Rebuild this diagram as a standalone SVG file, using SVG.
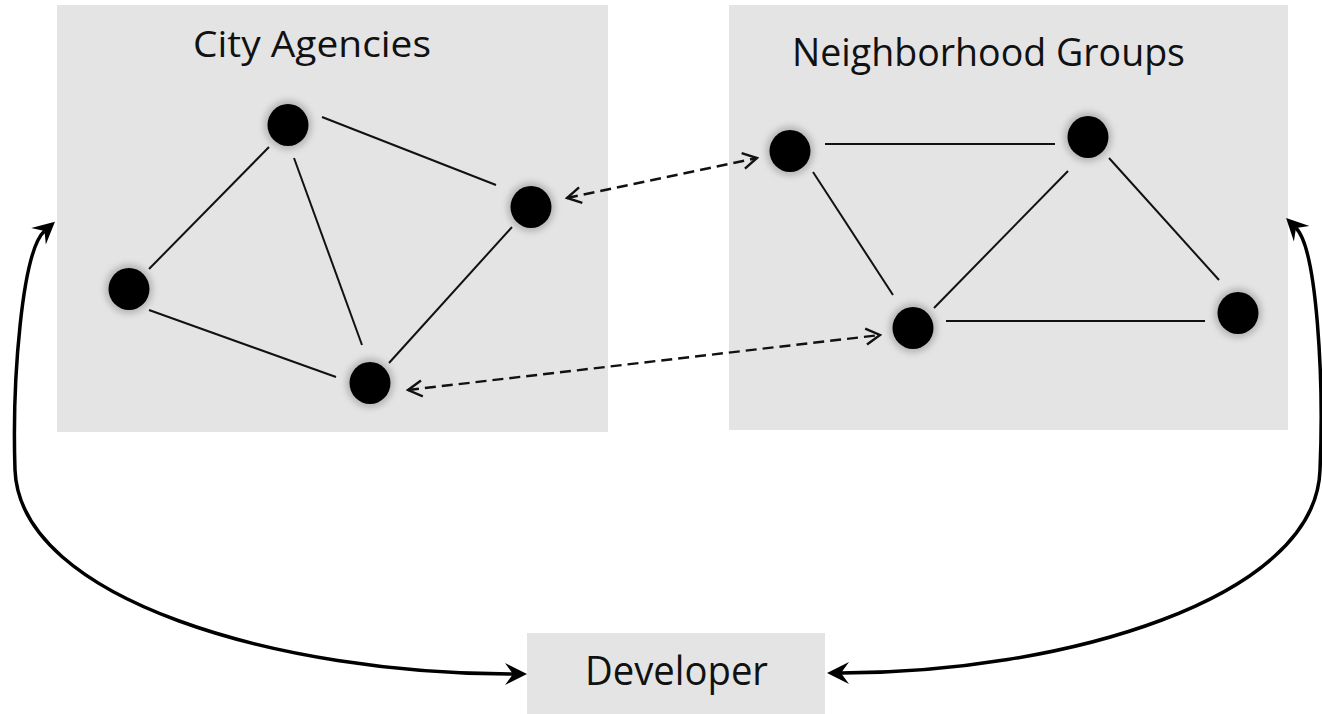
<svg xmlns="http://www.w3.org/2000/svg" width="1322" height="714" viewBox="0 0 1322 714">
<style>
.box{fill:#e4e4e4}
.lbl{font-family:"Open Sans","Liberation Sans",sans-serif;fill:#111}
.edge{stroke:#111;stroke-width:2;fill:none}
.dash{stroke:#111;stroke-width:2.4;fill:none;stroke-dasharray:11 6}
.curve{stroke:#000;stroke-width:3.5;fill:none}
.node{fill:#000}
</style>
<defs>
<filter id="halo" x="-50%" y="-50%" width="200%" height="200%">
<feGaussianBlur stdDeviation="3"/>
</filter>
<marker id="big" markerUnits="userSpaceOnUse" viewBox="-10 -13 26 26" refX="0" refY="0" markerWidth="26" markerHeight="26" orient="auto-start-reverse">
<path d="M14,0 L-8,-11 L0,0 L-8,11 Z" fill="#000"/>
</marker>
<marker id="open" markerUnits="userSpaceOnUse" viewBox="-16 -10 18 20" refX="0" refY="0" markerWidth="18" markerHeight="20" orient="auto-start-reverse">
<path d="M-14,-8 L0,0 L-14,8" fill="none" stroke="#111" stroke-width="2.4"/>
</marker>
</defs>
<rect width="1322" height="714" fill="#fff"/>

<g id="city-agencies">
<rect class="box" x="57" y="5" width="551" height="427"/>
<text class="lbl" x="193" y="57" font-size="36" textLength="238" lengthAdjust="spacingAndGlyphs">City Agencies</text>
<g class="edge">
<line x1="322" y1="117" x2="496" y2="185"/>
<line x1="269" y1="147" x2="149" y2="269"/>
<line x1="294" y1="158" x2="362" y2="345"/>
<line x1="149" y1="310" x2="336" y2="377"/>
<line x1="512" y1="227" x2="389" y2="363"/>
</g>
<g fill="#999" opacity="0.6" filter="url(#halo)">
<ellipse cx="288" cy="125" rx="24" ry="25"/>
<ellipse cx="531" cy="207" rx="24" ry="25"/>
<ellipse cx="129" cy="289" rx="24" ry="25"/>
<ellipse cx="370" cy="383" rx="24" ry="25"/>
</g>
<g class="node">
<ellipse cx="288" cy="125" rx="20.5" ry="21"/>
<ellipse cx="531" cy="207" rx="20.5" ry="21"/>
<ellipse cx="129" cy="289" rx="20.5" ry="21"/>
<ellipse cx="370" cy="383" rx="20.5" ry="21"/>
</g>
</g>

<g id="neighborhood-groups">
<rect class="box" x="729" y="5" width="559" height="425"/>
<text class="lbl" x="792" y="66" font-size="38" textLength="393" lengthAdjust="spacingAndGlyphs">Neighborhood Groups</text>
<g class="edge">
<line x1="825" y1="144" x2="1055" y2="144"/>
<line x1="813" y1="172" x2="893" y2="295"/>
<line x1="934" y1="308" x2="1068" y2="171"/>
<line x1="1109" y1="158" x2="1219" y2="280"/>
<line x1="946" y1="321" x2="1205" y2="321"/>
</g>
<g fill="#999" opacity="0.6" filter="url(#halo)">
<ellipse cx="790" cy="151" rx="24" ry="25"/>
<ellipse cx="1088" cy="137" rx="24" ry="25"/>
<ellipse cx="913" cy="328" rx="24" ry="25"/>
<ellipse cx="1238" cy="313" rx="24" ry="25"/>
</g>
<g class="node">
<ellipse cx="790" cy="151" rx="20.5" ry="21"/>
<ellipse cx="1088" cy="137" rx="20.5" ry="21"/>
<ellipse cx="913" cy="328" rx="20.5" ry="21"/>
<ellipse cx="1238" cy="313" rx="20.5" ry="21"/>
</g>
</g>

<g id="developer">
<rect class="box" x="527" y="633" width="298" height="81"/>
<text class="lbl" x="585" y="685" font-size="41" textLength="183" lengthAdjust="spacingAndGlyphs">Developer</text>
</g>

<g id="connectors">
<line class="dash" x1="567" y1="198" x2="757" y2="158" marker-start="url(#open)" marker-end="url(#open)"/>
<line class="dash" x1="408" y1="390" x2="880" y2="335" marker-start="url(#open)" marker-end="url(#open)"/>
<path class="curve" d="M44.5,231 C22,251 12,380 15,470 C20,600 280,674 513,674" marker-start="url(#big)" marker-end="url(#big)"/>
<path class="curve" d="M1296,228 C1317,249 1324,380 1320,470 C1316,600 1060,673 841,673" marker-start="url(#big)" marker-end="url(#big)"/>
</g>
</svg>
